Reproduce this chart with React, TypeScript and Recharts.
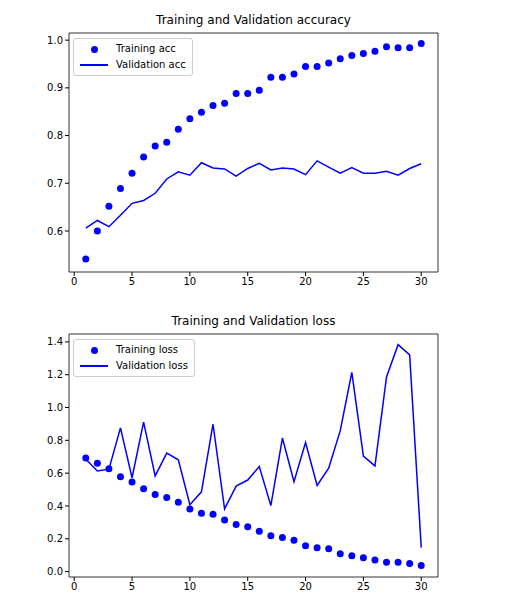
import React from "react";
import { LineChart, Line, XAxis, YAxis, ReferenceArea } from "recharts";

const epochs = Array.from({ length: 30 }, (_, i) => i + 1);

const trainAcc = [0.541, 0.6, 0.652, 0.689, 0.721, 0.755, 0.778, 0.786, 0.813, 0.835, 0.849, 0.863, 0.868, 0.888, 0.888, 0.895, 0.922, 0.922, 0.929, 0.945, 0.945, 0.952, 0.961, 0.968, 0.972, 0.977, 0.986, 0.984, 0.984, 0.993];
const valAcc = [0.606, 0.622, 0.609, 0.633, 0.658, 0.664, 0.679, 0.709, 0.724, 0.717, 0.743, 0.732, 0.73, 0.715, 0.731, 0.742, 0.728, 0.732, 0.73, 0.718, 0.747, 0.734, 0.721, 0.733, 0.721, 0.721, 0.725, 0.717, 0.731, 0.741];
const trainLoss = [0.693, 0.66, 0.626, 0.578, 0.546, 0.505, 0.47, 0.451, 0.423, 0.382, 0.355, 0.349, 0.314, 0.287, 0.273, 0.246, 0.219, 0.207, 0.191, 0.158, 0.146, 0.139, 0.109, 0.096, 0.084, 0.07, 0.057, 0.057, 0.049, 0.037];
const valLoss = [0.685, 0.613, 0.624, 0.876, 0.572, 0.911, 0.583, 0.722, 0.681, 0.408, 0.486, 0.898, 0.382, 0.521, 0.558, 0.64, 0.402, 0.814, 0.548, 0.786, 0.525, 0.63, 0.859, 1.214, 0.704, 0.644, 1.186, 1.383, 1.321, 0.146];

const xTicks = [0, 5, 10, 15, 20, 25, 30];
const accTicks = [0.6, 0.7, 0.8, 0.9, 1.0];
const lossTicks = [0, 0.2, 0.4, 0.6, 0.8, 1.0, 1.2, 1.4];

const accData = epochs.map((e, i) => ({ epoch: e, train: trainAcc[i], val: valAcc[i] }));
const lossData = epochs.map((e, i) => ({ epoch: e, train: trainLoss[i], val: valLoss[i] }));

const font = "'DejaVu Sans', sans-serif";
const tick = { fill: "#000", fontSize: 10, fontFamily: font };
const XMIN = -0.45;
const XMAX = 31.45;

function Panel({ data, title, yDomain, yTicks, top, marginTop, marginBottom, fmt, names }: any) {
  return (
    <div style={{ position: "absolute", left: 0, top, width: 531, height: 302 }}>
      <div style={{ position: "absolute", left: 69, width: 369, top: marginTop - 20, textAlign: "center", fontFamily: font, fontSize: 12 }}>
        {title}
      </div>
      <LineChart width={531} height={302} data={data} margin={{ top: marginTop, right: 93, bottom: marginBottom, left: 29 }}>
        <XAxis dataKey="epoch" type="number" domain={[XMIN, XMAX]} ticks={xTicks} height={20} tick={tick} tickLine={{ stroke: "#000" }} tickSize={4} axisLine={false} allowDataOverflow />
        <YAxis type="number" domain={yDomain} ticks={yTicks} width={40} tick={tick} tickLine={{ stroke: "#000" }} tickSize={4} axisLine={false} tickFormatter={fmt} allowDataOverflow />
        <ReferenceArea x1={XMIN} x2={XMAX} y1={yDomain[0]} y2={yDomain[1]} fill="none" stroke="#000" strokeWidth={0.8} />
        <Line dataKey="val" stroke="#0000ff" strokeWidth={1.5} dot={false} isAnimationActive={false} />
        <Line dataKey="train" stroke="none" dot={{ r: 3.5, fill: "#0000ff", stroke: "none" }} isAnimationActive={false} />
      </LineChart>
      <div style={{ position: "absolute", left: 73, top: marginTop + 5, border: "1px solid #ccc", borderRadius: 3, padding: "2px 6px", fontFamily: font, fontSize: 10, lineHeight: "16px", background: "#fff" }}>
        <div style={{ display: "flex", alignItems: "center" }}>
          <span style={{ width: 28, display: "inline-flex", justifyContent: "center" }}>
            <span style={{ width: 7, height: 7, borderRadius: "50%", background: "#0000ff" }} />
          </span>
          <span style={{ marginLeft: 8 }}>{names[0]}</span>
        </div>
        <div style={{ display: "flex", alignItems: "center" }}>
          <span style={{ width: 28, height: 1.5, background: "#0000ff" }} />
          <span style={{ marginLeft: 8 }}>{names[1]}</span>
        </div>
      </div>
    </div>
  );
}

export default function App() {
  return (
    <div style={{ position: "absolute", left: 0, top: 0, width: 531, height: 604, background: "#fff" }}>
      <Panel data={accData} title="Training and Validation accuracy" yDomain={[0.514, 1.015]} yTicks={accTicks} top={0} marginTop={33} marginBottom={10} fmt={(v: number) => v.toFixed(1)} names={["Training acc", "Validation acc"]} />
      <Panel data={lossData} title="Training and Validation loss" yDomain={[-0.033, 1.448]} yTicks={lossTicks} top={302} marginTop={32} marginBottom={7} fmt={(v: number) => v.toFixed(1)} names={["Training loss", "Validation loss"]} />
    </div>
  );
}
